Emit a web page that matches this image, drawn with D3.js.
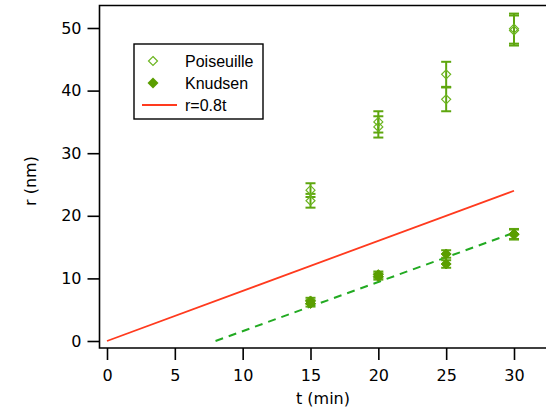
<!DOCTYPE html>
<html><head><meta charset="utf-8">
<script src="https://cdn.jsdelivr.net/npm/d3@7"></script>
<style>body{margin:0;background:#fff}svg{display:block}</style>
</head><body>
<svg id="c" width="546" height="413"></svg>
<script>
const tValues = [15, 15, 20, 20, 25, 25, 30, 30];
const poiseuille = [24.1, 22.4, 35.0, 34.2, 42.6, 38.6, 49.9, 49.6];
const poiseuilleErr = [1.1, 1.1, 1.7, 1.7, 2.0, 1.9, 2.4, 2.4];
const knudsen = [6.4, 6.0, 10.6, 10.3, 13.9, 12.3, 17.1, 17.0];
const knudsenErr = [0.5, 0.5, 0.5, 0.5, 0.6, 0.6, 0.8, 0.8];
const fitT = [8, 30];
const fitR = [0, 17.3];
const modelT = [0, 30];
const modelR = [0, 24];
const xTicks = [0, 5, 10, 15, 20, 25, 30];
const yTicks = [0, 10, 20, 30, 40, 50];
const legendLabels = ["Poiseuille", "Knudsen", "r=0.8t"];

(function () {
const svg = d3.select("#c");
const x = d3.scaleLinear().domain([0, 30]).range([107, 514]);
const y = d3.scaleLinear().domain([0, 50]).range([341, 28]);
const pLeft = 99.5, pBottom = 348, pTop = 5.5, pRight = 546;
const tickFont = "DejaVu Sans, Verdana, sans-serif";

// frame
svg.append("path").attr("d", `M${pRight},${pTop}H${pLeft}V${pBottom}H${pRight}`)
  .attr("fill", "none").attr("stroke", "#000").attr("stroke-width", 1.6);

// axes
const ya = svg.append("g").attr("transform", `translate(${pLeft},0)`)
  .call(d3.axisLeft(y).tickValues(yTicks).tickSize(12).tickPadding(6));
const xa = svg.append("g").attr("transform", `translate(0,${pBottom})`)
  .call(d3.axisBottom(x).tickValues(xTicks).tickSize(12).tickPadding(10));
[ya, xa].forEach(a => {
  a.select(".domain").remove();
  a.selectAll("line").attr("stroke", "#000").attr("stroke-width", 1.6);
  a.selectAll("text").attr("font-family", tickFont).attr("font-size", 16).attr("fill", "#000");
});

svg.append("text").attr("x", 323).attr("y", 404).attr("text-anchor", "middle")
  .attr("font-family", tickFont).attr("font-size", 16).text("t (min)");
svg.append("text").attr("transform", "translate(36,181) rotate(-90)").attr("text-anchor", "middle")
  .attr("font-family", tickFont).attr("font-size", 16).text("r (nm)");

const line = d3.line().x(d => x(d[0])).y(d => y(d[1]));
svg.append("path").datum(modelT.map((t, i) => [t, modelR[i]])).attr("d", line)
  .attr("fill", "none").attr("stroke", "#ff3a1e").attr("stroke-width", 1.8);
svg.append("path").datum(fitT.map((t, i) => [t, fitR[i]])).attr("d", line)
  .attr("fill", "none").attr("stroke", "#22aa22").attr("stroke-width", 2)
  .attr("stroke-dasharray", "8,6");

const green = "#5ea60e";
function errorBars(vals, errs, color) {
  const g = svg.append("g").attr("stroke", color).attr("stroke-width", 2);
  vals.forEach((v, i) => {
    const cx = x(tValues[i]);
    const y1 = y(v + errs[i]), y2 = y(v - errs[i]);
    g.append("line").attr("x1", cx).attr("x2", cx).attr("y1", y1).attr("y2", y2);
    g.append("line").attr("x1", cx - 5).attr("x2", cx + 5).attr("y1", y1).attr("y2", y1);
    g.append("line").attr("x1", cx - 5).attr("x2", cx + 5).attr("y1", y2).attr("y2", y2);
  });
}
const diamond = (cx, cy, r) => `M${cx},${cy - r}L${cx + r},${cy}L${cx},${cy + r}L${cx - r},${cy}Z`;

errorBars(poiseuille, poiseuilleErr, green);
svg.append("g").selectAll("path").data(poiseuille).join("path")
  .attr("d", (v, i) => diamond(x(tValues[i]), y(v), 4.5))
  .attr("fill", "none").attr("stroke", "#6cb520").attr("stroke-width", 1.2);

errorBars(knudsen, knudsenErr, green);
svg.append("g").selectAll("path").data(knudsen).join("path")
  .attr("d", (v, i) => diamond(x(tValues[i]), y(v), 5))
  .attr("fill", "#5a9e00").attr("stroke", "#5a9e00").attr("stroke-width", 1);

// legend
const lg = svg.append("g");
lg.append("rect").attr("x", 134).attr("y", 44).attr("width", 129).attr("height", 75)
  .attr("fill", "#fff").attr("stroke", "#000").attr("stroke-width", 1.4);
const ly = [61, 83, 105];
lg.append("path").attr("d", diamond(153, ly[0], 4.5)).attr("fill", "none").attr("stroke", "#6cb520").attr("stroke-width", 1.2);
lg.append("path").attr("d", diamond(153, ly[1], 5.5)).attr("fill", "#5a9e00");
lg.append("line").attr("x1", 142).attr("x2", 177).attr("y1", ly[2]).attr("y2", ly[2])
  .attr("stroke", "#ff3a1e").attr("stroke-width", 1.8);
legendLabels.forEach((s, i) => {
  lg.append("text").attr("x", 185).attr("y", ly[i] + 6).attr("font-family", "Liberation Sans, Arial, sans-serif")
    .attr("font-size", 16).text(s);
});
})();
</script>
</body></html>
